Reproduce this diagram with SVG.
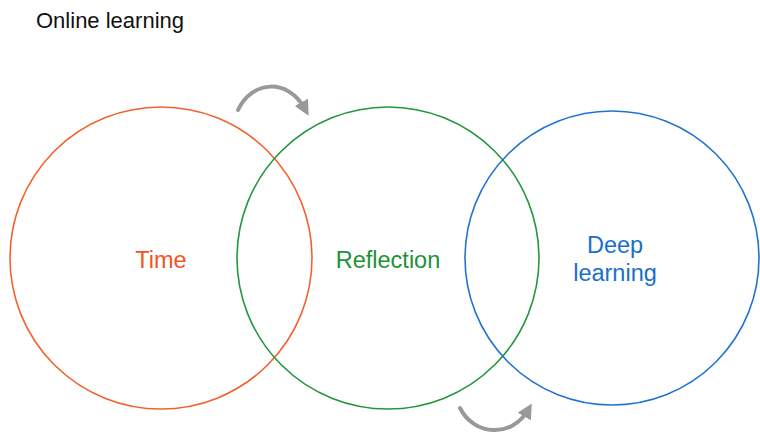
<svg xmlns="http://www.w3.org/2000/svg" width="760" height="435" viewBox="0 0 760 435">
  <style>
    .ring { fill: none; stroke-width: 1.6; }
    .label { font-family: "Liberation Sans", Arial, sans-serif; font-size: 23.5px; text-anchor: middle; }
    .flow { fill: none; stroke: #999999; stroke-width: 4; stroke-linecap: round; }
  </style>
  <defs>
    <marker id="head" viewBox="0 0 10 10" refX="5" refY="5" markerWidth="3.8" markerHeight="3.8" orient="auto" markerUnits="strokeWidth">
      <path d="M0,0 L10,5 L0,10 Z" fill="#999999"/>
    </marker>
  </defs>
  <rect width="760" height="435" fill="#ffffff"/>

  <text x="36" y="28" font-family="Liberation Sans, Arial, sans-serif" font-size="22" fill="#111111" textLength="148" lengthAdjust="spacingAndGlyphs">Online learning</text>

  <g id="time">
    <circle class="ring" cx="161" cy="258" r="151" stroke="#F2622F"/>
    <text class="label" x="161" y="268" fill="#F2551F">Time</text>
  </g>
  <g id="reflection">
    <circle class="ring" cx="388" cy="258" r="151" stroke="#23963F"/>
    <text class="label" x="388" y="268" fill="#1E9038">Reflection</text>
  </g>
  <g id="deep-learning">
    <circle class="ring" cx="612" cy="258" r="147" stroke="#2274CF"/>
    <text class="label" x="615" y="253" fill="#1A6FCB">Deep</text>
    <text class="label" x="615" y="281" fill="#1A6FCB">learning</text>
  </g>

  <g id="connectors">
    <path class="flow" d="M238,110 C252,80 288,78 305,109" marker-end="url(#head)"/>
    <path class="flow" d="M460,408 C474,436 512,438 528,410" marker-end="url(#head)"/>
  </g>
</svg>
